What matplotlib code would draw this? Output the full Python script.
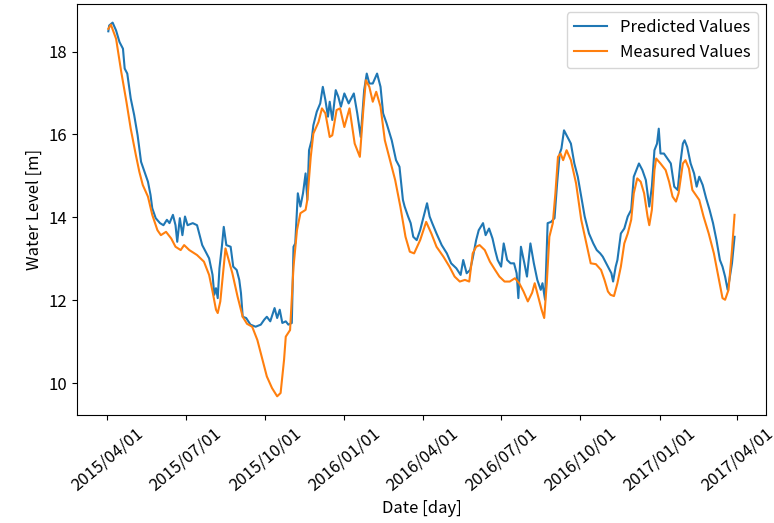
import matplotlib
matplotlib.use('Agg')
import matplotlib.pyplot as plt
import matplotlib.dates as mdates
import pandas as pd

plt.rcParams['font.family'] = ['Noto Sans CJK JP', 'DejaVu Sans']
plt.rcParams['font.size'] = 12

start = pd.Timestamp('2015-04-01')

# predicted values: day offset from 2015/04/01, water level [m]
pred_days = [1, 2, 6, 10, 14, 18, 20, 23, 27, 31, 35, 39, 43, 47, 50, 52, 56, 61, 65,
             69, 72, 76, 79, 81, 84, 87, 90, 93, 99, 104, 108, 110, 114, 118, 122, 124,
             126, 128, 130, 133, 135, 138, 143, 146, 150, 153, 155, 157, 161, 166, 172,
             178, 182, 185, 189, 194, 197, 200, 203, 207, 210, 214, 216, 218, 221, 224,
             227, 230, 232, 234, 237, 239, 243, 247, 250, 253, 256, 258, 261, 265, 268,
             271, 275, 280, 284, 286, 290, 294, 298, 301, 304, 308, 313, 317, 320, 324,
             330, 335, 339, 343, 345, 349, 352, 355, 359, 363, 367, 371, 374, 377, 382,
             388, 394, 399, 405, 410, 413, 417, 421, 424, 428, 431, 436, 439, 443, 447,
             450, 453, 457, 460, 464, 468, 472, 475, 477, 480, 484, 487, 491, 495, 499,
             503, 505, 508, 511, 515, 519, 522, 525, 527, 530, 534, 538, 542, 546, 550,
             554, 559, 564, 568, 572, 575, 579, 582, 585, 587, 590, 592, 596, 600, 604,
             608, 611, 614, 617, 621, 625, 629, 632, 635, 638, 640, 642, 646, 650, 654,
             658, 662, 665, 668, 670, 673, 677, 681, 684, 687, 691, 695, 699, 703, 707,
             711, 714, 717, 720, 722, 725, 728]
pred_vals = [18.49, 18.63, 18.70, 18.51, 18.23, 18.07, 17.59, 17.47, 16.87, 16.47, 15.98,
             15.34, 15.10, 14.86, 14.54, 14.22, 13.98, 13.86, 13.81, 13.94, 13.86, 14.06,
             13.81, 13.41, 13.98, 13.57, 14.02, 13.81, 13.86, 13.81, 13.49, 13.33, 13.17,
             13.01, 12.61, 12.13, 12.29, 12.05, 12.77, 13.33, 13.77, 13.33, 13.29, 12.81,
             12.73, 12.49, 12.17, 11.60, 11.57, 11.41, 11.36, 11.41, 11.53, 11.60, 11.49,
             11.81, 11.57, 11.77, 11.45, 11.49, 11.41, 11.45, 13.29, 13.37, 14.58, 14.26,
             14.58, 15.06, 14.42, 15.62, 15.86, 16.22, 16.55, 16.75, 17.15, 16.83, 16.43,
             16.79, 16.35, 17.07, 16.91, 16.67, 16.99, 16.75, 16.91, 16.99, 16.51, 15.94,
             17.07, 17.47, 17.23, 17.23, 17.47, 17.15, 16.51, 16.27, 15.86, 15.38, 15.22,
             14.42, 14.26, 14.02, 13.86, 13.53, 13.45, 13.69, 14.02, 14.34, 14.02, 13.86,
             13.61, 13.33, 13.13, 12.89, 12.77, 12.61, 12.97, 12.65, 12.73, 13.01, 13.45,
             13.69, 13.86, 13.57, 13.73, 13.49, 13.21, 12.97, 12.81, 13.37, 12.97, 12.89,
             12.89, 12.65, 12.05, 13.29, 12.89, 12.57, 13.37, 12.89, 12.49, 12.25, 12.41,
             12.01, 13.86, 13.89, 13.98, 14.82, 15.54, 15.66, 16.10, 15.94, 15.78, 15.30,
             14.98, 14.50, 14.02, 13.61, 13.37, 13.21, 13.13, 13.05, 12.89, 12.77, 12.65,
             12.45, 12.81, 12.97, 13.61, 13.73, 14.02, 14.18, 14.98, 15.14, 15.30, 15.14,
             14.90, 14.26, 14.74, 15.62, 15.78, 16.14, 15.54, 15.54, 15.42, 15.30, 14.74,
             14.66, 15.30, 15.78, 15.86, 15.70, 15.30, 15.06, 14.74, 14.98, 14.78, 14.46,
             14.18, 13.86, 13.45, 12.97, 12.81, 12.57, 12.25, 12.49, 12.89, 13.53]

# measured values
meas_days = [1, 4, 10, 16, 22, 27, 33, 37, 41, 47, 52, 58, 62, 68, 74, 79, 85, 89, 95,
             104, 112, 118, 122, 126, 128, 131, 137, 145, 151, 157, 162, 168, 174, 180,
             185, 191, 197, 201, 205, 207, 212, 216, 220, 224, 230, 232, 236, 239, 245,
             249, 253, 258, 261, 266, 270, 275, 281, 287, 293, 297, 300, 304, 308, 312,
             317, 322, 328, 334, 340, 346, 351, 356, 363, 370, 376, 382, 390, 397, 403,
             409, 415, 420, 424, 428, 432, 438, 444, 450, 455, 461, 467, 473, 478, 483,
             488, 493, 496, 500, 504, 507, 510, 513, 517, 520, 523, 526, 529, 533, 538,
             544, 550, 556, 561, 567, 573, 577, 581, 584, 588, 592, 596, 600, 604, 608,
             611, 615, 619, 623, 627, 629, 632, 635, 637, 642, 648, 652, 656, 660, 663,
             668, 671, 675, 679, 683, 687, 692, 698, 704, 710, 714, 717, 721, 725, 728]
meas_vals = [18.55, 18.65, 18.31, 17.51, 16.79, 16.14, 15.50, 15.10, 14.78, 14.50, 14.06,
             13.69, 13.57, 13.65, 13.49, 13.29, 13.21, 13.33, 13.21, 13.09, 12.93, 12.61,
             12.21, 11.77, 11.69, 11.97, 13.25, 12.65, 12.09, 11.60, 11.43, 11.36, 11.04,
             10.56, 10.16, 9.88, 9.68, 9.76, 10.56, 11.12, 11.28, 12.81, 13.69, 14.10,
             14.18, 14.42, 15.46, 16.02, 16.30, 16.63, 16.51, 15.94, 15.98, 16.59, 16.63,
             16.18, 16.63, 15.78, 15.46, 16.59, 17.31, 17.15, 16.79, 17.03, 16.67, 15.86,
             15.38, 14.90, 14.26, 13.53, 13.17, 13.13, 13.45, 13.89, 13.61, 13.29, 13.05,
             12.81, 12.57, 12.45, 12.49, 12.45, 13.13, 13.29, 13.33, 13.21, 12.93, 12.73,
             12.57, 12.45, 12.45, 12.53, 12.41, 12.21, 11.97, 12.18, 12.41, 12.09, 11.77,
             11.57, 12.41, 13.53, 13.86, 14.58, 15.46, 15.54, 15.38, 15.62, 15.38, 14.82,
             13.94, 13.37, 12.89, 12.87, 12.73, 12.49, 12.21, 12.13, 12.10, 12.41, 12.81,
             13.37, 13.61, 13.94, 14.58, 14.94, 14.86, 14.58, 14.02, 13.81, 14.18, 15.14,
             15.42, 15.30, 15.14, 14.86, 14.50, 14.38, 14.58, 15.30, 15.38, 15.18, 14.66,
             14.54, 14.42, 14.02, 13.61, 13.13, 12.49, 12.05, 12.01, 12.25, 13.21, 14.06]

pred_dates = start + pd.to_timedelta(pred_days, unit='D')
meas_dates = start + pd.to_timedelta(meas_days, unit='D')

fig = plt.figure(figsize=(7.74, 5.23), dpi=100)
ax = fig.add_axes([0.0995, 0.2065, 0.89, 0.786])

ax.plot(pred_dates, pred_vals, label='Predicted Values')
ax.plot(meas_dates, meas_vals, label='Measured Values')

ax.xaxis.set_major_locator(mdates.MonthLocator(bymonth=[1, 4, 7, 10]))
ax.xaxis.set_major_formatter(mdates.DateFormatter('%Y/%m/%d'))
plt.setp(ax.get_xticklabels(), rotation=40, ha='center', rotation_mode='default')

ax.set_yticks([10, 12, 14, 16, 18])
ax.set_xlabel('Date [day]')
ax.set_ylabel('Water Level [m]')
ax.legend(loc='upper right')

fig.savefig('out.png', dpi=100)
